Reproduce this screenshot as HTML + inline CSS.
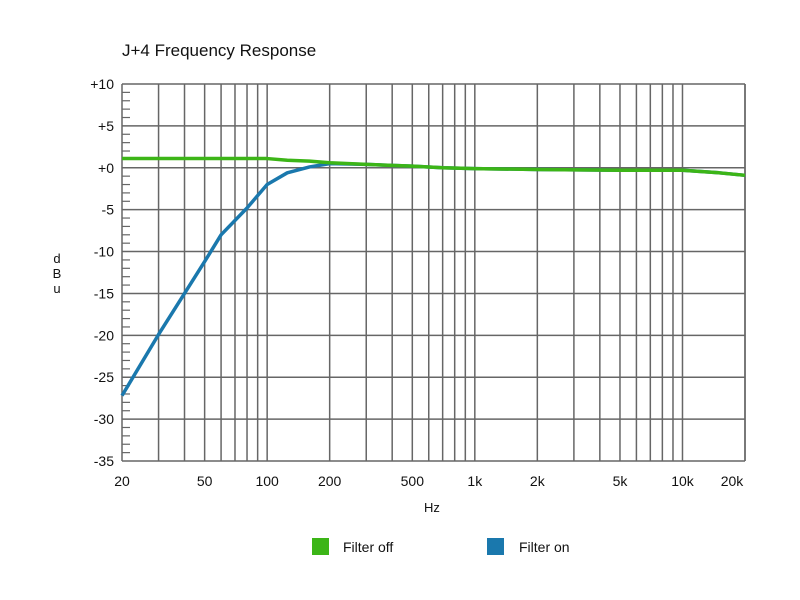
<!DOCTYPE html>
<html><head><meta charset="utf-8"><style>
body{margin:0;background:#fff;}
svg{display:block;font-family:"Liberation Sans",Arial,sans-serif;}
</style></head><body>
<svg id="chart" width="800" height="600">
<rect x="0" y="0" width="800" height="600" fill="#fff"/>
<text x="122" y="56" font-size="17" fill="#111">J+4 Frequency Response</text>
<g id="grid"></g>
<g id="ylabels" font-size="14" fill="#111" text-anchor="end"></g>
<g id="xlabels" font-size="14" fill="#111" text-anchor="middle"></g>
<g font-size="13" fill="#111" text-anchor="middle">
<text x="57" y="263">d</text><text x="57" y="278">B</text><text x="57" y="293">u</text></g>
<text x="432" y="512" font-size="13" fill="#111" text-anchor="middle">Hz</text>
<g id="series"></g>
<g>
<rect x="312" y="538" width="17" height="17" fill="#3cb517"/>
<text x="343" y="552" font-size="14" fill="#111">Filter off</text></g>
<g>
<rect x="487" y="538" width="17" height="17" fill="#1a78ad"/>
<text x="519" y="552" font-size="14" fill="#111">Filter on</text></g>
</svg>
<script>
const yTicks=[10,5,0,-5,-10,-15,-20,-25,-30,-35];
const yTickLabels=["+10","+5","+0","-5","-10","-15","-20","-25","-30","-35"];
const xTicks=[20,50,100,200,500,1000,2000,5000,10000,20000];
const xTickLabels=["20","50","100","200","500","1k","2k","5k","10k","20k"];
const freqs=[20,30,40,50,60,80,100,125,160,200,300,500,700,1000,2000,5000,10000,15000,20000];
const filterOff=[1.1,1.1,1.1,1.1,1.1,1.1,1.1,0.9,0.8,0.6,0.4,0.2,0,-0.1,-0.2,-0.3,-0.3,-0.6,-0.9];
const filterOn=[-27.2,-19.9,-15,-11.2,-8,-4.8,-2,-0.6,0.1,0.5,0.4,0.2,0,-0.1,-0.2,-0.3,-0.3,-0.6,-0.9];
const L=122,R=745,T=84,B=461,fMin=20,fMax=20000,dMax=10,dMin=-35;
const NS="http://www.w3.org/2000/svg";
function xs(f){return L+(Math.log10(f)-Math.log10(fMin))/(Math.log10(fMax)-Math.log10(fMin))*(R-L);}
function ys(d){return T+(dMax-d)/(dMax-dMin)*(B-T);}
function mk(t,a,p){const e=document.createElementNS(NS,t);for(const k in a)e.setAttribute(k,a[k]);p.appendChild(e);return e;}
const grid=document.getElementById('grid');
const gl=[];
for(let dec=10;dec<=10000;dec*=10)for(let m=1;m<=9;m++){const f=dec*m;if(f>=fMin&&f<=fMax)gl.push(f);}
gl.forEach(f=>{const x=xs(f);const l=mk('line',{x1:x,x2:x,y1:T,y2:B,stroke:'#666','stroke-width':1.5},grid);

});
mk('line',{x1:R,x2:R,y1:T,y2:B,stroke:'#666','stroke-width':1.5},grid);
yTicks.forEach(d=>{const y=ys(d);const l=mk('line',{x1:L,x2:R,y1:y,y2:y,stroke:'#666','stroke-width':1.5},grid);

});
for(let d=dMin;d<=dMax;d++){if(d%5===0)continue;const y=ys(d);mk('line',{x1:L,x2:L+8,y1:y,y2:y,stroke:'#666','stroke-width':1.2},grid);}
const yl=document.getElementById('ylabels');
yTicks.forEach((d,i)=>{const t=mk('text',{x:L-8,y:ys(d)+5},yl);t.textContent=yTickLabels[i];

});
const xl=document.getElementById('xlabels');
xTicks.forEach((f,i)=>{const x=f>=20000?xs(f)-13:xs(f);const t=mk('text',{x:x,y:486},xl);t.textContent=xTickLabels[i];

});
const sg=document.getElementById('series');
function line(vals,col,name){const p=mk('polyline',{points:freqs.map((f,i)=>xs(f)+','+ys(vals[i])).join(' '),fill:'none',stroke:col,'stroke-width':3.5,'stroke-linejoin':'round'},sg);

}
line(filterOn,'#1a78ad','filter-on-line');
line(filterOff,'#3cb517','filter-off-line');
</script>
</body></html>
